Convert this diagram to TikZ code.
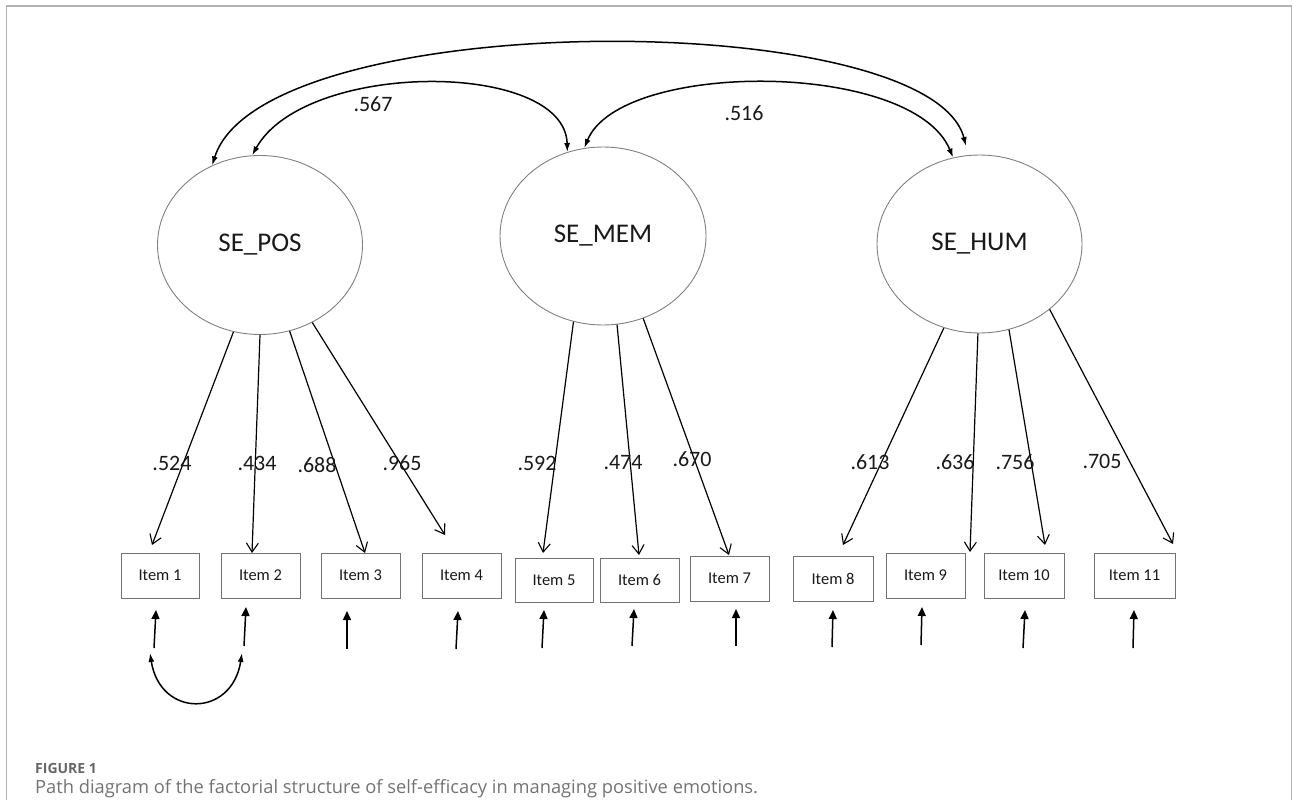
\documentclass[tikz,border=0pt]{standalone}
\usepackage{fontspec}
\setmainfont{Carlito}
\newfontfamily\capfont{Open Sans}
\usetikzlibrary{arrows.meta,shapes.geometric}
\begin{document}
\begin{tikzpicture}[x=1pt,y=-1pt,
  latent/.style={ellipse, draw=black!50, line width=0.9pt, inner sep=0pt, font=\fontsize{27}{30}\selectfont, text=black!90},
  itembox/.style={rectangle, draw=black!55, line width=0.9pt, inner sep=0pt, minimum height=45pt, font=\fontsize{16.5}{18}\selectfont, text=black!90},
  loadarr/.style={-{Straight Barb[length=9pt,width=12pt,line width=1.1pt]}, line width=1.2pt},
  errarr/.style={-{Triangle[length=9pt,width=8pt]}, line width=1.5pt},
  corarr/.style={{Latex[length=9pt,width=6pt]}-{Latex[length=9pt,width=6pt]}, line width=1.5pt},
  lbl/.style={font=\fontsize{22}{24}\selectfont, inner sep=0pt, text=black!90}
]
\useasboundingbox (0,0) rectangle (1293,800);
\draw[black!30, line width=1.6pt] (6.5,800) -- (6.5,6) -- (1291.5,6) -- (1291.5,800);

% latent variables
\node[latent, minimum width=205pt, minimum height=179pt] (POS) at (260,245) {SE\_POS};
\node[latent, minimum width=206pt, minimum height=178pt] (MEM) at (603,236) {SE\_MEM};
\node[latent, minimum width=205pt, minimum height=178pt] (HUM) at (979.5,244) {SE\_HUM};

% items
\node[itembox, minimum width=78pt] (I1) at (160,575.5) {Item 1};
\node[itembox, minimum width=79pt] (I2) at (260.5,575.5) {Item 2};
\node[itembox, minimum width=79pt] (I3) at (360.5,575.5) {Item 3};
\node[itembox, minimum width=79pt] (I4) at (461.5,575.5) {Item 4};
\node[itembox, minimum width=78pt, minimum height=44pt] (I5) at (554,580) {Item 5};
\node[itembox, minimum width=79pt, minimum height=44pt] (I6) at (639.5,580) {Item 6};
\node[itembox, minimum width=79pt] (I7) at (729.5,578.5) {Item 7};
\node[itembox, minimum width=80pt] (I8) at (833,578.5) {Item 8};
\node[itembox, minimum width=79pt] (I9) at (925.5,575.5) {Item 9};
\node[itembox, minimum width=80pt] (I10) at (1024,575.5) {Item 10};
\node[itembox, minimum width=81pt] (I11) at (1134.5,575.5) {Item 11};

% loading arrow tips
\coordinate (t1) at (152,545);
\coordinate (t2) at (252,553);
\coordinate (t3) at (365,553);
\coordinate (t4) at (445,535);
\coordinate (t5) at (543,553);
\coordinate (t6) at (639,555);
\coordinate (t7) at (729,555);
\coordinate (t8) at (843,545);
\coordinate (t9) at (970,552);
\coordinate (t10) at (1045,545);
\coordinate (t11) at (1173,544);

\draw[loadarr] (POS.253.3) -- (t1);
\draw[loadarr] (POS.270) -- (t2);
\draw[loadarr] (POS.289.3) -- (t3);
\draw[loadarr] (POS.304.7) -- (t4);
\draw[loadarr] (MEM.251.9) -- (t5);
\draw[loadarr] (MEM.279) -- (t6);
\draw[loadarr] (MEM.296) -- (t7);
\draw[loadarr] (HUM.247.6) -- (t8);
\draw[loadarr] (HUM.269) -- (t9);
\draw[loadarr] (HUM.289.1) -- (t10);
\draw[loadarr] (HUM.317.5) -- (t11);

% loading labels
\node[lbl] (l1) at (172,463) {.524};
\node[lbl] (l2) at (257,463) {.434};
\node[lbl] (l3) at (317,465) {.688};
\node[lbl] (l4) at (402,463) {.965};
\node[lbl] (l5) at (537,463) {.592};
\node[lbl] (l6) at (623,463) {.474};
\node[lbl] (l7) at (692,459) {.670};
\node[lbl] (l8) at (870,462) {.613};
\node[lbl] (l9) at (955,462) {.636};
\node[lbl] (l10) at (1015,462) {.756};
\node[lbl] (l11) at (1102,461) {.705};

% error arrows
\coordinate (s1) at (154,648);   \coordinate (u1) at (156,610);
\coordinate (s2) at (244,646);   \coordinate (u2) at (246,607);
\coordinate (s3) at (347,649);   \coordinate (u3) at (347,611);
\coordinate (s4) at (456,649);   \coordinate (u4) at (458,611);
\coordinate (s5) at (542,648);   \coordinate (u5) at (544,610);
\coordinate (s6) at (632,646);   \coordinate (u6) at (634,609);
\coordinate (s7) at (736,646);   \coordinate (u7) at (736,609);
\coordinate (s8) at (832,647);   \coordinate (u8) at (833,610);
\coordinate (s9) at (921,645);   \coordinate (u9) at (922,607);
\coordinate (s10) at (1023,648); \coordinate (u10) at (1025,610);
\coordinate (s11) at (1133,648); \coordinate (u11) at (1134,610);
\foreach \i in {1,...,11} {\draw[errarr] (s\i) -- (u\i);}

% residual correlation
\coordinate (c1) at (150,653);
\coordinate (c2) at (242,653);
\draw[corarr] (c1) .. controls (160,718) and (232,718) .. (c2);

% factor correlations
\coordinate (a2) at (966,146);
\draw[corarr] (POS.121) .. controls (262,6) and (930,6) .. (a2);
\draw[corarr] (POS.95) .. controls (305,60) and (565,60) .. (MEM.113);
\draw[corarr] (MEM.102) .. controls (620,60) and (913,60) .. (HUM.107);
\node[lbl] (r1) at (373,104) {.567};
\node[lbl] (r2) at (744,113) {.516};

% caption
\node[anchor=west, inner sep=0pt, font=\capfont\bfseries\fontsize{14}{16}\selectfont, text=black!60] (fig) at (35,768) {FIGURE 1};
\node[anchor=west, inner sep=0pt, font=\capfont\fontsize{18.3}{21}\selectfont, text=black!55] (cap) at (35,789) {Path diagram of the factorial structure of self-efficacy in managing positive emotions.};
\end{tikzpicture}
\end{document}
